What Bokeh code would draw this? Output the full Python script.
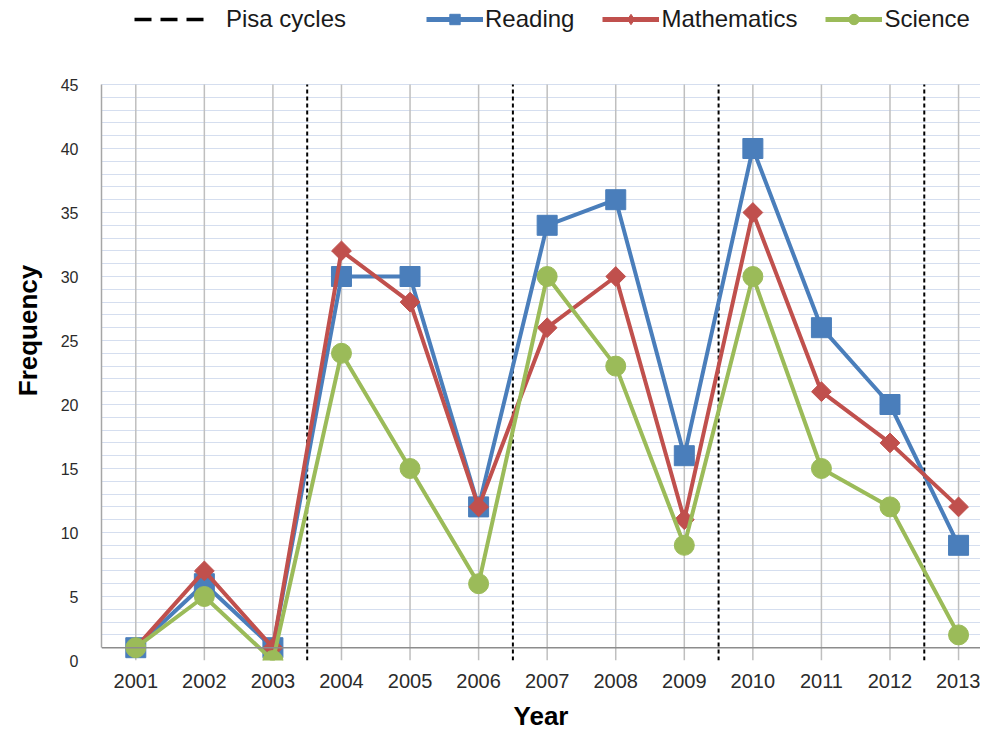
import math
from bokeh.plotting import figure
from bokeh.models import Legend, LegendItem, Span, FixedTicker, Range1d
from bokeh.embed import file_html
from bokeh.resources import INLINE

years = [2001, 2002, 2003, 2004, 2005, 2006, 2007, 2008, 2009, 2010, 2011, 2012, 2013]
reading = [1, 6, 1, 30, 30, 12, 34, 36, 16, 40, 26, 20, 9]
mathematics = [1, 7, 1, 32, 28, 12, 26, 30, 11, 35, 21, 17, 12]
science = [1, 5, 0, 24, 15, 6, 30, 23, 9, 30, 15, 12, 2]
pisa_cycles = [2003.5, 2006.5, 2009.5, 2012.5]
y_ticks = [0, 5, 10, 15, 20, 25, 30, 35, 40, 45]
y_minor = list(range(0, 46))
Y_MAX = 45

FONT = "Liberation Sans"
BLUE = "#4a7ebb"
RED = "#c0504d"
GREEN = "#9bbb59"

FRAME_W = 879
FRAME_H = 660
TOP_PAD = 84            # pixels of frame kept above the 45 line for the legend
y_top = Y_MAX * FRAME_H / (FRAME_H - TOP_PAD)

p = figure(frame_width=FRAME_W, frame_height=FRAME_H,
           x_range=Range1d(2000.5, 2013.32), y_range=Range1d(0, y_top),
           output_backend="svg", toolbar_location=None,
           min_border_left=101, min_border_top=0, min_border_bottom=0, min_border_right=0)

p.outline_line_color = None
p.background_fill_color = "white"

# axes
p.xaxis.ticker = FixedTicker(ticks=years)
p.yaxis.ticker = FixedTicker(ticks=y_ticks, minor_ticks=y_minor)
for ax in (p.xaxis[0], p.yaxis[0]):
    ax.major_tick_line_color = None
    ax.minor_tick_line_color = None
    ax.major_label_text_font = FONT
    ax.major_label_text_color = "#2b2b2b"
    ax.axis_label_text_font = FONT
    ax.axis_label_text_font_style = "bold"
    ax.axis_label_text_font_size = "26px"
    ax.axis_label_text_color = "#000000"
p.xaxis.major_label_text_font_size = "20px"
p.yaxis.major_label_text_font_size = "16px"
p.xaxis.axis_line_color = None
p.yaxis.axis_line_color = "#a6a6a6"
p.yaxis.axis_line_width = 1.5
p.yaxis.bounds = (1, Y_MAX)
p.xaxis.major_label_standoff = 7
p.yaxis.major_label_standoff = 17
p.xaxis.axis_label = "Year"
p.yaxis.axis_label = "Frequency"
p.xaxis.axis_label_standoff = 10
p.yaxis.axis_label_standoff = 15

# grid
p.xgrid.grid_line_color = None
p.ygrid.grid_line_color = "#d5deef"
p.ygrid.grid_line_width = 1
p.ygrid.minor_grid_line_color = "#d5deef"
p.ygrid.minor_grid_line_width = 1
p.segment(x0=years, y0=[0] * len(years), x1=years, y1=[Y_MAX] * len(years),
          line_color="#bfbfbf", line_width=1.5)

# x axis baseline (drawn at 1 as in the original)
p.add_layout(Span(location=1, dimension="width", line_color="#8c8c8c", line_width=1.5))

# pisa cycle separators
for x in pisa_cycles:
    p.line([x, x], [0, Y_MAX], line_color="black", line_width=2, line_dash="4 3")

p.line(years, reading, line_color=BLUE, line_width=4)
p.scatter(years, reading, marker="square", size=20, fill_color=BLUE, line_color=BLUE)
p.line(years, mathematics, line_color=RED, line_width=4)
p.scatter(years, mathematics, marker="square", angle=math.pi / 4, size=14,
          fill_color=RED, line_color=RED)
p.line(years, science, line_color=GREEN, line_width=4)
p.scatter(years, science, marker="circle", size=20, fill_color=GREEN, line_color=GREEN)

# legend proxies (legend styling differs from the chart marks); NaN keeps them off the plot
nan = [float("nan")]
pisa_l = p.line(nan, nan, line_color="black", line_width=3.5, line_dash="17 9")
rl = p.line(nan, nan, line_color=BLUE, line_width=5)
rs = p.scatter(nan, nan, marker="square", size=15, fill_color=BLUE, line_color=BLUE)
ml = p.line(nan, nan, line_color=RED, line_width=5)
ms = p.scatter(nan, nan, marker="diamond", size=19, fill_color=RED, line_color=RED)
sl = p.line(nan, nan, line_color=GREEN, line_width=5)
ss = p.scatter(nan, nan, marker="circle", size=15, fill_color=GREEN, line_color=GREEN)

common = dict(orientation="horizontal", glyph_height=26, label_text_font=FONT,
              label_text_font_size="24px", label_text_color="#1a1a1a",
              background_fill_alpha=0, border_line_color=None, padding=0, margin=0)
leg1 = Legend(items=[LegendItem(label="Pisa cycles", renderers=[pisa_l])],
              location=(33, FRAME_H - 33), glyph_width=74, label_standoff=18, **common)
leg2 = Legend(items=[LegendItem(label="Reading", renderers=[rl, rs]),
                     LegendItem(label="Mathematics", renderers=[ml, ms]),
                     LegendItem(label="Science", renderers=[sl, ss])],
              location=(325, FRAME_H - 33), glyph_width=57, label_standoff=2, spacing=28,
              **common)
p.add_layout(leg1, "center")
p.add_layout(leg2, "center")

open("out.html", "w").write(file_html(p, INLINE))
